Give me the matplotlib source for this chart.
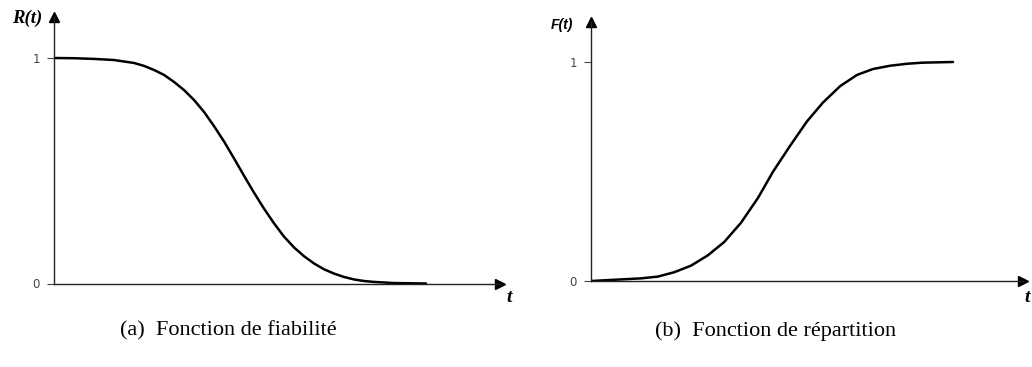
import matplotlib
matplotlib.use('Agg')
import matplotlib.pyplot as plt

###############################################################################
# Fiabilite R(t) et fonction de repartition F(t)
###############################################################################

# R(t) : fiabilite
t_R = [0.0, 0.5, 1.0, 1.5, 2.0, 2.25, 2.5, 2.75, 3.0, 3.25, 3.5, 3.75, 4.0, 4.25,
       4.5, 4.75, 5.0, 5.25, 5.5, 5.75, 6.0, 6.25, 6.5, 6.75, 7.0, 7.25, 7.5, 7.75,
       8.0, 8.5, 9.3]
R = [1.0, 0.999, 0.996, 0.991, 0.978, 0.965, 0.947, 0.925, 0.894, 0.858, 0.814,
     0.761, 0.698, 0.630, 0.555, 0.478, 0.403, 0.332, 0.267, 0.208, 0.160, 0.121,
     0.089, 0.063, 0.044, 0.029, 0.018, 0.011, 0.007, 0.002, 0.0]

# F(t) : fonction de repartition
t_F = [0.0, 0.83, 1.25, 1.67, 2.08, 2.5, 2.92, 3.33, 3.75, 4.17, 4.55, 4.98, 5.4,
       5.8, 6.23, 6.65, 7.05, 7.48, 7.9, 8.3, 9.05]
F = [0.0, 0.008, 0.012, 0.020, 0.040, 0.070, 0.117, 0.178, 0.266, 0.378, 0.499,
     0.618, 0.729, 0.815, 0.890, 0.941, 0.968, 0.983, 0.992, 0.997, 1.0]

W, H = 1032, 367
fig = plt.figure(figsize=(W / 100, H / 100), dpi=100)


def make_axes(x0, x1, y_top, y_bot):
    # box given in pixels from the top-left corner
    return fig.add_axes([x0 / W, 1 - y_bot / H, (x1 - x0) / W, (y_bot - y_top) / H])


def style_axes(ax, xmax, ymax):
    ax.set_xlim(0, xmax)
    ax.set_ylim(0, ymax)
    for s in ['top', 'right']:
        ax.spines[s].set_visible(False)
    for s in ['left', 'bottom']:
        ax.spines[s].set_linewidth(1.0)
        ax.spines[s].set_color('#222222')
    ax.set_xticks([])
    ax.set_yticks([0, 1])
    ax.tick_params(axis='y', direction='out', length=5, width=0.8, color='#444444',
                   labelsize=8.5, labelcolor='#444444', pad=5)
    # arrow heads at the end of each axis
    ax.plot(1, 0, marker='>', ms=7, color='black', transform=ax.transAxes, clip_on=False)
    ax.plot(0, 1, marker='^', ms=7, color='black', transform=ax.transAxes, clip_on=False)


# (a) fiabilite
ax1 = make_axes(54, 500, 17, 283.5)
style_axes(ax1, 446 / 40, 266.5 / 225.5)
ax1.plot(t_R, R, color='black', lw=1.8, solid_capstyle='round', solid_joinstyle='round')
fig.text(27 / W, 1 - 18 / H, 'R(t)', family='Liberation Serif', weight='bold',
         style='italic', fontsize=13.5, ha='center', va='center')
fig.text(509 / W, 1 - 297 / H, 't', family='Liberation Serif', weight='bold',
         style='italic', fontsize=14, ha='center', va='center')
fig.text(228 / W, 1 - 331 / H, '(a)  Fonction de fiabilité', family='Liberation Serif',
         fontsize=16, ha='center', va='center')

# (b) repartition
ax2 = make_axes(591, 1023, 22, 281)
style_axes(ax2, 432 / 40, 259 / 219)
ax2.plot(t_F, F, color='black', lw=1.8, solid_capstyle='round', solid_joinstyle='round')
fig.text(562 / W, 1 - 25 / H, 'F(t)', family='Liberation Sans', weight='bold',
         style='italic', fontsize=10, ha='center', va='center')
fig.text(1027 / W, 1 - 297 / H, 't', family='Liberation Serif', weight='bold',
         style='italic', fontsize=14, ha='center', va='center')
fig.text(776 / W, 1 - 331 / H, '(b)  Fonction de répartition', family='Liberation Serif',
         fontsize=16, ha='center', va='center')

fig.savefig('out.png', dpi=100)
